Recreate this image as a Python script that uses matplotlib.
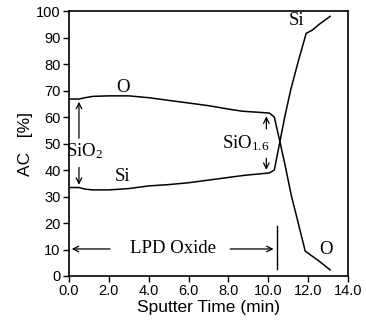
import matplotlib.pyplot as plt

# depth profile of the LPD oxide (atomic concentration vs sputter time)
o_time = [0, 0.5, 0.8, 1.2, 2.0, 3.0, 4.0, 5.0, 6.0, 7.0, 8.0, 8.7, 9.5,
          10.05, 10.3, 10.58, 10.85, 11.15, 11.5, 11.85, 12.2, 12.55, 13.1]
o_conc = [66.8, 66.8, 67.3, 67.8, 68.0, 68.0, 67.3, 66.3, 65.3, 64.3, 63.0,
          62.2, 61.8, 61.5, 60.0, 50.7, 41.5, 30.5, 20.0, 9.4, 7.5, 5.6, 2.3]

si_time = [0, 0.5, 0.8, 1.2, 2.0, 3.0, 4.0, 5.0, 6.0, 7.0, 8.0, 8.8, 9.5,
           10.05, 10.3, 10.58, 10.85, 11.13, 11.5, 11.9, 12.2, 12.55, 13.1]
si_conc = [33.4, 33.4, 32.8, 32.5, 32.5, 33.0, 34.0, 34.5, 35.2, 36.2, 37.2,
           38.0, 38.5, 38.9, 40.0, 50.7, 61.0, 70.5, 81.0, 91.6, 92.8, 95.0,
           98.0]

x_ticks = [0, 2, 4, 6, 8, 10, 12, 14]
y_ticks = [0, 10, 20, 30, 40, 50, 60, 70, 80, 90, 100]

oxide_end = 10.45

sans = 'Liberation Sans'
serif = 'Liberation Serif'

# subscripts in the serif labels
plt.rcParams['mathtext.fontset'] = 'custom'
plt.rcParams['mathtext.rm'] = serif
plt.rcParams['mathtext.it'] = serif + ':italic'

fig = plt.figure(figsize=(3.66, 3.26), dpi=100)
ax = fig.add_axes([0.1885, 0.1534, 0.7625, 0.8126])

ax.plot(o_time, o_conc, color='black', linewidth=1.1)
ax.plot(si_time, si_conc, color='black', linewidth=1.1)

ax.set_xlim(0, 14)
ax.set_ylim(0, 100)
ax.set_xticks(x_ticks)
ax.set_xticklabels([f'{t:.1f}' for t in x_ticks])
ax.set_yticks(y_ticks)
ax.tick_params(direction='out', length=4, width=1, labelsize=10.5, pad=2)
for s in ax.spines.values():
    s.set_linewidth(1.2)

for lab in ax.get_xticklabels() + ax.get_yticklabels():
    lab.set_family(sans)

ax.set_xlabel('Sputter Time (min)', family=sans, fontsize=12.5, labelpad=1)
ax.set_ylabel('AC   [%]', family=sans, fontsize=12.5, labelpad=2)

arrow = dict(arrowstyle='->', color='black', lw=0.9)
fs = 13.5

# curve labels
ax.text(2.7, 71, 'O', family=serif, fontsize=fs, ha='center', va='center')
ax.text(2.7, 37.7, 'Si', family=serif, fontsize=fs, ha='center', va='center')
ax.text(11.4, 96.5, 'Si', family=serif, fontsize=fs, ha='center', va='center')
ax.text(12.9, 10, 'O', family=serif, fontsize=fs, ha='center', va='center')

# SiO2 composition at the surface
ax.text(0.78, 47, r'SiO$_2$', family=serif, fontsize=fs, ha='center',
        va='center')
ax.annotate('', xy=(0.5, 66.8), xytext=(0.5, 51), arrowprops=arrow)
ax.annotate('', xy=(0.5, 33.4), xytext=(0.5, 42), arrowprops=arrow)

# SiO1.6 near the interface
ax.text(8.85, 50, r'SiO$_{1.6}$', family=serif, fontsize=fs, ha='center',
        va='center')
ax.annotate('', xy=(9.9, 61.3), xytext=(9.9, 54.5), arrowprops=arrow)
ax.annotate('', xy=(9.9, 39.0), xytext=(9.9, 45.5), arrowprops=arrow)

# oxide thickness marker
ax.text(5.2, 10.2, 'LPD Oxide', family=serif, fontsize=fs, ha='center',
        va='center')
ax.annotate('', xy=(0.0, 10.2), xytext=(2.2, 10.2), arrowprops=arrow)
ax.annotate('', xy=(oxide_end - 0.05, 10.2), xytext=(7.95, 10.2),
            arrowprops=arrow)
ax.plot([oxide_end, oxide_end], [2.5, 19], color='black', linewidth=1)

fig.savefig('out.png', dpi=100)
